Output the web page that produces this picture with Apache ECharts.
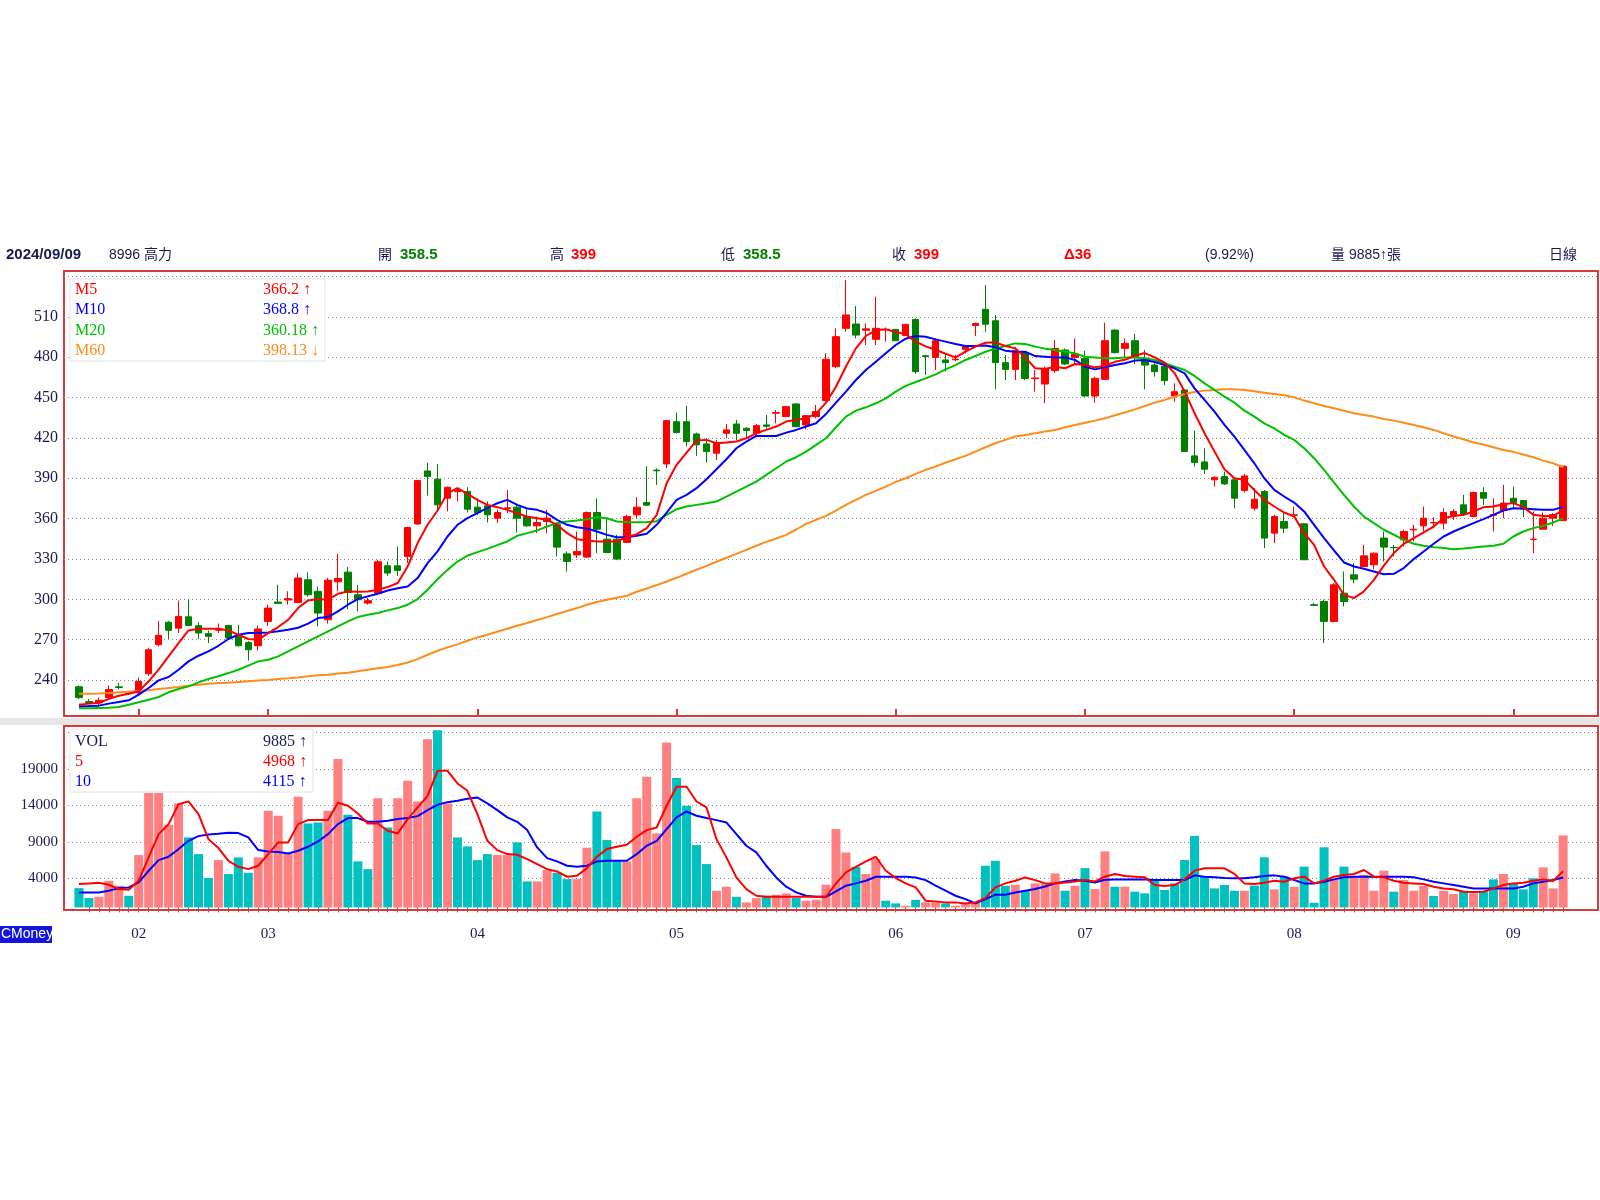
<!DOCTYPE html>
<html>
<head>
<meta charset="utf-8">
<title>8996 高力 日線</title>
<script src="https://cdn.jsdelivr.net/npm/echarts@6/dist/echarts.min.js"></script>
<style>
  html, body { margin: 0; padding: 0; background: #fff; }
  #chart { width: 1600px; height: 1200px; }
</style>
</head>
<body>
<div id="chart"></div>
<script>
// 交易日 (2024/01/24 ~ 2024/09/09)
const dates = [
  '01/24','01/25','01/26','01/29','01/30','01/31',
  '02/01','02/02','02/05','02/15','02/16','02/19','02/20','02/21','02/22','02/23','02/26','02/27','02/29',
  '03/01','03/04','03/05','03/06','03/07','03/08','03/11','03/12','03/13','03/14','03/15','03/18','03/19','03/20','03/21','03/22','03/25','03/26','03/27','03/28','03/29',
  '04/01','04/02','04/03','04/08','04/09','04/10','04/11','04/12','04/15','04/16','04/17','04/18','04/19','04/22','04/23','04/24','04/25','04/26','04/29','04/30',
  '05/02','05/03','05/06','05/07','05/08','05/09','05/10','05/13','05/14','05/15','05/16','05/17','05/20','05/21','05/22','05/23','05/24','05/27','05/28','05/29','05/30','05/31',
  '06/03','06/04','06/05','06/06','06/07','06/11','06/12','06/13','06/14','06/17','06/18','06/19','06/20','06/21','06/24','06/25','06/26','06/27','06/28',
  '07/01','07/02','07/03','07/04','07/05','07/08','07/09','07/10','07/11','07/12','07/15','07/16','07/17','07/18','07/19','07/22','07/23','07/26','07/29','07/30','07/31',
  '08/01','08/02','08/05','08/06','08/07','08/08','08/09','08/12','08/13','08/14','08/15','08/16','08/19','08/20','08/21','08/22','08/23','08/26','08/27','08/28','08/29','08/30',
  '09/02','09/03','09/04','09/05','09/06','09/09'
];

// 開 收 低 高
const opens = [
  235, 224, 223, 227, 235, 230, 230.5, 244.7, 266.3, 283,
  278.6, 287, 280.4, 274.5, 277, 280.6, 272.5, 268, 265.5, 283.6,
  298, 299.5, 297.7, 314.5, 305.9, 284.8, 313, 320.2, 303.4, 297.2,
  304.6, 324.9, 324.9, 331.9, 356, 395.4, 389.3, 375.2, 380, 380.1,
  368.5, 369.5, 360.3, 367.5, 368.5, 361.5, 354.6, 357.8, 355.4, 333.8,
  333, 331.4, 364.5, 344.7, 344.7, 342.3, 362.8, 372, 396, 400.6,
  432, 432, 422.9, 415.5, 408.6, 423.4, 430.3, 427.1, 423.4, 429.6,
  438.3, 435.8, 445.2, 429.6, 435.8, 447.7, 472.9, 501.4, 504.6, 500,
  493.2, 500.5, 500.6, 496, 508, 481, 479.8, 477.9, 478, 485.8,
  503.5, 515.5, 507, 475.9, 470.9, 483.3, 464, 460, 470, 485.3,
  479.8, 479.1, 451.1, 463.5, 500.1, 486.5, 492.2, 479.1, 474.1, 473.1,
  451.1, 455.6, 406.6, 402.1, 388.8, 391.2, 388.8, 380.9, 367.7, 380.1,
  349.2, 357.8, 362.5, 356.1, 296, 298.4, 283.6, 304.6, 318.2, 324.4,
  325.7, 345.5, 338.6, 344.2, 351.6, 354.6, 356.8, 356.6, 362, 370.2,
  361.5, 379.4, 362.5, 366, 375.1, 373.4, 344.5, 352.1, 360.3, 358.5
];
const closes = [
  227, 223, 225, 233, 234.5, 230, 239, 262.5, 273.2, 277,
  287.3, 280.6, 275, 272.5, 278, 271.2, 265.5, 262.5, 278, 293.5,
  297, 300.5, 315.8, 303.4, 289.8, 314.2, 315.5, 305.1, 299.7, 299,
  327.9, 319.5, 321.5, 353.4, 388.3, 391.2, 370.2, 383.3, 381.5, 367,
  364.5, 362.8, 364.5, 368, 360.3, 354.6, 357.1, 360.3, 338.8, 328.1,
  335.6, 364.5, 352.1, 334.8, 329.9, 361.5, 368.5, 370, 395.5, 432.8,
  423.9, 417.2, 414.8, 409.8, 416.5, 425.9, 423.4, 425.4, 429.1, 428.6,
  438.8, 443.2, 428.3, 436.5, 439.5, 478.4, 495.2, 511.3, 496.4, 501,
  501.4, 500.7, 492.2, 504.3, 469.2, 480.5, 492.2, 475.9, 478.5, 488.2,
  505, 504.5, 475.9, 470.9, 484.8, 464.2, 464.5, 471.7, 486.5, 474.9,
  482.3, 451.1, 464.2, 492.2, 483.3, 490.2, 479.8, 474.1, 469.2, 462.5,
  454.3, 409.8, 401.6, 396.7, 390.7, 385.8, 375.2, 391.7, 374.4, 345.5,
  361.5, 352.9, 362.8, 329.4, 295.5, 283.6, 310.8, 298.4, 315, 332.3,
  334.3, 338.8, 338.4, 350.4, 352.1, 360.3, 357.1, 364.5, 365.3, 363.5,
  379.4, 375.2, 363, 371.5, 371.5, 367, 344.7, 360.3, 363, 399
];
const lows = [
  226, 222, 221, 226, 233, 229, 229, 243, 265, 270.5,
  275, 280, 270.5, 267.5, 275, 270, 265, 254.6, 262, 280.4,
  296.5, 296, 297, 302, 280, 282, 306, 292.8, 291, 296,
  303.4, 317.5, 317.5, 327, 355.4, 377.1, 365, 365.3, 372.7, 364.5,
  362.8, 357.1, 356.6, 364, 349.7, 354.1, 349.2, 349.2, 331.9, 320.7,
  330.6, 330.6, 334.3, 334.3, 329.4, 341.8, 360.3, 369.5, 385, 397.4,
  423.4, 413.5, 406.6, 401.6, 403.6, 419.7, 418.4, 419.7, 422.2, 427,
  430.8, 435.3, 427.9, 426.4, 434.5, 446.9, 471.7, 498.9, 493.9, 489,
  489, 491.5, 492, 495.7, 467.5, 466.7, 470.4, 469.2, 477, 482.8,
  495.7, 498.9, 456.1, 463, 463, 463, 454.3, 445.7, 468.4, 474.1,
  475.4, 450.6, 446.2, 463, 482.8, 479.8, 474.9, 456.1, 465.5, 459.3,
  446.9, 409.8, 398.7, 393.2, 383.8, 385, 367.7, 379.4, 366, 338.1,
  341.8, 349.2, 361, 329.4, 295.2, 267.5, 282.9, 294.7, 312, 324.4,
  322.5, 328.1, 331.9, 339.3, 343, 350.4, 352.9, 352.1, 359, 362,
  361, 370.2, 350.4, 360.3, 367.7, 361, 334.3, 352.1, 354.6, 358.5
];
const highs = [
  236, 226, 227, 236, 238, 231, 242, 264, 284, 284,
  299, 300, 283, 276.7, 282, 281, 281, 269, 280.4, 296,
  310.8, 306, 319.5, 320, 309.6, 316, 333.8, 324, 310.8, 301,
  329.4, 328, 339.3, 354, 388.8, 401.6, 400.6, 383.8, 382.6, 383.3,
  375.1, 372.7, 366.5, 381.3, 370.2, 366.5, 361.5, 366.5, 357.1, 335.6,
  350.4, 365.3, 374.9, 360.3, 347.9, 362.8, 375.9, 399, 397.4, 433.3,
  438.8, 443.7, 423.9, 419.7, 418.4, 430.3, 433.3, 427.9, 430.3, 437,
  440.7, 443.7, 445.7, 437, 444.4, 482.8, 501.4, 537.2, 518, 505,
  524.9, 502, 501, 505, 508.8, 481.6, 493.9, 482.8, 481.6, 489,
  505.5, 533.5, 511.3, 481.6, 487.7, 484, 470.4, 472.9, 492.7, 486.5,
  493.9, 484.8, 465.5, 505.5, 500.6, 493.9, 497.2, 485.3, 477.9, 474.1,
  460.5, 456.1, 425.4, 412.3, 391.2, 394.9, 390, 393.2, 382.6, 381.3,
  362.8, 364.5, 368.9, 356.6, 297.2, 299.7, 312, 320.7, 326.9, 340.5,
  334.8, 350.4, 340.5, 351.6, 355.4, 368.9, 361, 367.7, 367, 377.6,
  380.1, 383.3, 375.1, 385, 383.8, 373.9, 365.3, 364.5, 364, 399
];

// 均線
const ma5 = [
  221.7, 222.5, 223.0, 226.0, 228.4, 229.9, 231.6, 239.1, 247.7, 257.6,
  267.5, 276.9, 278.2, 278.2, 278.2, 276.9, 273.7, 270.5, 270.0, 274.9,
  279.4, 284.8, 293.5, 299.2, 300.2, 299.7, 304.1, 305.9, 305.6, 305.9,
  307.1, 309.1, 312.1, 324.4, 341.8, 355.4, 366.0, 379.0, 382.6, 378.4,
  373.9, 370.2, 368.5, 366.5, 364.0, 361.5, 360.3, 359.1, 355.4, 349.2,
  344.7, 343.7, 343.0, 343.0, 343.0, 346.2, 348.4, 352.9, 362.8, 386.3,
  400.0, 409.0, 418.0, 418.5, 416.0, 416.5, 417.3, 419.7, 423.4, 425.9,
  428.4, 432.1, 433.3, 434.6, 438.0, 446.2, 458.0, 473.0, 486.5, 495.7,
  500.1, 500.6, 498.7, 497.0, 491.5, 488.0, 485.5, 482.5, 479.8, 484.1,
  487.8, 490.7, 491.0, 488.3, 486.5, 479.8, 471.7, 471.2, 472.9, 471.7,
  474.9, 474.2, 472.4, 473.5, 476.5, 478.0, 481.0, 483.0, 479.8, 475.9,
  468.0, 454.4, 438.3, 423.4, 409.8, 396.7, 390.0, 388.8, 381.3, 373.9,
  369.0, 364.5, 361.5, 349.2, 340.5, 324.4, 314.5, 303.4, 300.9, 305.9,
  314.5, 325.0, 334.4, 341.3, 345.5, 349.7, 354.1, 360.3, 362.0, 362.8,
  365.3, 368.5, 369.0, 370.7, 371.5, 368.5, 362.8, 362.0, 362.0, 366.2
];
const ma10 = [
  220.5, 220.7, 221.0, 222.5, 223.7, 225.0, 229.2, 234.1, 239.8, 242.3,
  247.7, 253.9, 258.1, 261.3, 265.5, 270.5, 273.7, 274.9, 274.9, 275.4,
  276.2, 277.4, 278.9, 281.9, 286.1, 286.8, 291.0, 296.0, 300.2, 302.2,
  304.1, 306.6, 308.3, 309.6, 315.8, 326.9, 335.6, 346.7, 355.4, 360.3,
  364.0, 368.0, 371.4, 373.9, 370.2, 367.5, 366.5, 364.0, 359.1, 355.4,
  353.6, 352.6, 350.4, 347.9, 346.2, 346.2, 347.2, 348.7, 355.4, 364.5,
  373.9, 377.6, 382.6, 389.3, 396.7, 404.1, 412.3, 417.2, 421.4, 421.4,
  421.4, 423.9, 425.9, 428.4, 430.8, 437.8, 446.2, 454.4, 463.0, 470.4,
  476.6, 482.8, 489.0, 493.7, 495.7, 495.2, 493.2, 491.5, 489.7, 488.3,
  488.3, 488.7, 487.3, 484.8, 484.0, 484.0, 480.8, 480.3, 479.8, 479.8,
  477.9, 472.9, 470.9, 472.4, 474.1, 475.4, 477.4, 477.9, 476.4, 474.1,
  471.7, 467.9, 456.8, 448.2, 439.5, 429.6, 420.9, 411.1, 401.1, 390.0,
  381.3, 376.4, 371.9, 365.3, 355.4, 345.5, 336.3, 327.4, 324.4, 322.7,
  320.7, 318.7, 319.0, 323.2, 329.9, 335.6, 341.3, 346.7, 350.4, 353.6,
  356.6, 359.6, 362.8, 366.0, 367.7, 367.5, 367.0, 366.5, 366.5, 368.8
];
const ma20 = [
  219.0, 219.0, 219.3, 219.5, 220.0, 221.7, 223.5, 225.4, 227.4, 230.9,
  233.4, 235.3, 238.3, 240.8, 242.8, 245.2, 247.7, 250.7, 253.9, 255.1,
  257.6, 261.3, 265.0, 268.8, 272.5, 276.2, 279.9, 283.6, 286.8, 288.6,
  289.8, 291.8, 293.5, 296.0, 300.2, 307.1, 315.0, 321.9, 328.1, 332.4,
  335.1, 337.5, 340.3, 343.0, 347.2, 349.2, 351.2, 354.1, 356.6, 357.8,
  358.6, 359.6, 361.0, 360.3, 357.8, 357.3, 357.3, 357.3, 358.1, 362.8,
  367.0, 369.0, 370.2, 371.4, 372.7, 376.4, 380.1, 383.8, 387.5, 392.5,
  397.4, 402.4, 405.6, 409.8, 414.8, 419.7, 427.9, 435.8, 440.2, 442.7,
  445.7, 449.4, 454.4, 458.6, 461.5, 464.2, 467.2, 470.9, 474.1, 477.9,
  480.8, 484.0, 486.3, 488.3, 490.2, 489.7, 487.8, 486.3, 485.3, 484.0,
  482.8, 480.3, 479.8, 479.1, 479.1, 479.8, 479.8, 479.1, 477.9, 475.4,
  472.9, 470.4, 466.0, 460.5, 455.6, 450.6, 446.2, 440.2, 435.8, 430.8,
  427.1, 422.2, 418.5, 412.3, 404.9, 396.2, 386.8, 377.6, 369.0, 361.5,
  356.6, 351.7, 348.0, 344.2, 341.3, 339.8, 338.8, 338.1, 337.3, 337.8,
  338.5, 339.3, 339.8, 341.3, 346.7, 350.4, 352.9, 354.6, 357.1, 360.2
];
const ma60 = [
  229.9, 229.9, 230.1, 230.4, 230.9, 231.4, 231.9, 232.4, 233.4, 234.1,
  234.9, 235.8, 236.6, 237.3, 237.8, 238.1, 238.6, 239.1, 239.6, 240.0,
  240.8, 241.3, 242.0, 242.8, 243.5, 244.0, 244.8, 245.5, 246.5, 247.7,
  248.7, 249.7, 251.2, 253.1, 255.6, 258.8, 261.8, 264.3, 266.5, 269.2,
  271.7, 273.7, 275.9, 278.2, 280.4, 282.4, 284.6, 286.8, 289.1, 291.3,
  293.5, 296.0, 298.0, 299.7, 301.2, 302.7, 305.6, 308.1, 310.6, 313.3,
  316.0, 319.0, 322.0, 324.9, 327.9, 330.9, 333.8, 336.8, 339.8, 342.7,
  345.2, 347.9, 351.9, 356.1, 359.1, 362.0, 366.0, 370.2, 373.9, 377.6,
  380.6, 383.8, 387.3, 390.0, 393.2, 396.2, 398.7, 401.6, 404.1, 406.6,
  409.8, 413.0, 416.0, 418.5, 421.0, 422.2, 423.4, 424.7, 425.9, 427.9,
  429.6, 431.3, 432.8, 434.5, 436.8, 438.8, 441.2, 443.7, 446.2, 448.2,
  450.6, 452.6, 454.1, 455.1, 455.6, 456.1, 456.1, 455.6, 454.6, 453.6,
  452.6, 451.6, 450.1, 447.7, 445.7, 443.7, 442.0, 440.2, 438.3, 437.0,
  435.8, 434.0, 432.8, 431.3, 429.6, 427.9, 425.9, 423.4, 421.0, 419.0,
  416.5, 415.0, 413.0, 411.0, 409.6, 407.6, 405.6, 403.1, 401.1, 398.1
];

// 成交量(張) 與量均線
const vols = [
  2650, 1280, 1460, 3660, 2970, 1600, 7190, 15700, 15700, 11350,
  14280, 9610, 7320, 4030, 6500, 4580, 6870, 4760, 6870, 13270,
  12590, 7410, 15200, 11530, 11670, 13270, 20370, 12720, 6320, 5260,
  15010, 10980, 15010, 17390, 14550, 23100, 24350, 14280, 9610, 8380,
  6500, 7320, 7190, 7190, 8930, 3570, 3570, 5130, 4760, 3890,
  3890, 8200, 13180, 9250, 6320, 6320, 15010, 17940, 10160, 22660,
  17760, 13960, 8560, 5950, 2290, 2840, 1460, 690, 1280, 1600,
  1740, 1920, 1280, 920, 1050, 3110, 10760, 7550, 5580, 4580,
  6640, 920, 550, 230, 1050, 690, 690, 550, 230, 460,
  690, 5720, 6410, 2970, 3110, 2290, 3300, 3300, 4670, 2290,
  2970, 5400, 2520, 7700, 2840, 2840, 2160, 1930, 3760, 2390,
  3300, 6510, 9820, 4310, 2610, 3070, 2290, 2290, 3000, 6880,
  2480, 4220, 2840, 5600, 640, 8260, 3850, 5600, 4220, 4450,
  2290, 5050, 2160, 3760, 2290, 2940, 1560, 2290, 1830, 2290,
  1930, 2290, 3850, 4590, 3210, 2480, 3990, 5500, 2610, 9885
];
const volMa5 = [
  3200, 3300, 3390, 3110, 2520, 2430, 3660, 6870, 10070, 11440,
  14190, 14550, 12820, 9380, 8150, 6410, 5580, 5260, 5720, 7320,
  8930, 8930, 11440, 11990, 11990, 11990, 14370, 13960, 12910, 11530,
  11530, 10530, 10160, 12130, 13730, 15330, 18770, 18770, 17030, 16020,
  12820, 9150, 7870, 7320, 7230, 6640, 5950, 5260, 4940, 4210,
  4350, 5400, 6960, 8010, 8330, 8600, 9700, 10620, 10980, 13960,
  16570, 16570, 14550, 13730, 9380, 6870, 4120, 2520, 1600, 1460,
  1460, 1460, 1460, 1460, 1460, 1460, 3300, 4810, 5580, 6320,
  6960, 5030, 4030, 3300, 2750, 920, 820, 690, 690, 550,
  690, 1280, 2750, 3300, 3660, 4120, 3750, 3300, 3300, 3430,
  3570, 3750, 3570, 4220, 4590, 4310, 4220, 4130, 3070, 2940,
  3070, 3850, 5050, 5370, 5370, 5370, 4590, 3300, 3210, 3390,
  3670, 3530, 3990, 4220, 3300, 3670, 4220, 4450, 4590, 5140,
  4220, 4130, 3670, 3390, 3300, 3210, 2840, 2610, 2480, 2160,
  2110, 2160, 2610, 3070, 3300, 3390, 3670, 3850, 3620, 4968
];
const volMa10 = [
  2060, 2060, 2060, 2290, 2650, 2750, 3430, 5030, 6500, 6960,
  8010, 9150, 9790, 10020, 10120, 10250, 10210, 9610, 7870, 7690,
  7600, 7410, 7780, 8330, 9060, 10070, 11440, 12270, 12270, 11760,
  11760, 11900, 12130, 12270, 12540, 13360, 14100, 14460, 14650, 14920,
  15100, 14280, 13360, 12360, 11760, 10620, 8240, 6770, 6320, 5720,
  5580, 5720, 6320, 6410, 6410, 6410, 7320, 8470, 9150, 10760,
  12360, 13180, 12590, 12270, 11990, 11670, 10070, 8470, 7550, 5720,
  4120, 2840, 2060, 1600, 1460, 1460, 2200, 2980, 3300, 3660,
  4210, 4210, 4210, 4210, 4120, 3750, 2980, 2290, 1600, 1140,
  550, 1140, 1740, 1740, 2060, 2290, 2520, 2880, 3300, 3570,
  3750, 3660, 3430, 3810, 3850, 3850, 3850, 3850, 3760, 3760,
  3760, 3760, 4400, 4220, 4130, 4040, 3990, 3990, 4130, 4310,
  4400, 4220, 3760, 3300, 3300, 3530, 3850, 4130, 4220, 4220,
  4220, 4220, 4220, 4220, 4130, 3850, 3530, 3300, 3070, 2840,
  2610, 2610, 2610, 2610, 2610, 2840, 3300, 3530, 3760, 4115
];

// 刻度
const priceTicks = [240, 270, 300, 330, 360, 390, 420, 450, 480, 510, 540];
const volTicks = [4000, 9000, 14000, 19000, 24000];

const UP = '#ff0000', DOWN = '#007f00';
const VOL_UP = '#ff8080', VOL_DOWN = '#00c0c0';
const C5 = '#ff0000', C10 = '#0000ff', C20 = '#00c000', C60 = '#ff8c1a';
const NAVY = '#1a1a50';
const FRAME = '#d23c3c';
const SERIF = "'Liberation Serif', 'Noto Serif', serif";
const SANS = "'Liberation Sans', 'Noto Sans CJK TC', sans-serif";

// 左留1格、右留3格空白
const padL = 1;
const cats = [''].concat(dates, ['', '', '']);
const at = i => i + padL;
const pts = arr => arr.map((v, i) => [at(i), v]);

const candles = dates.map((d, i) => [at(i), opens[i], closes[i], lows[i], highs[i]]);
const volData = vols.map((v, i) => ({
  value: [at(i), v],
  itemStyle: { color: i > 0 && closes[i] > closes[i - 1] ? VOL_UP : VOL_DOWN }
}));

function isMonthStart(k) {
  if (k < padL + 1 || k > padL + dates.length - 1) return false;
  return cats[k].slice(0, 2) !== cats[k - 1].slice(0, 2);
}

function gridLines(values, hideValue, fontSize) {
  return {
    silent: true,
    z: 1,
    symbol: ['none', 'none'],
    animation: false,
    lineStyle: { type: [1, 3], color: '#8c8c8c', width: 1 },
    label: {
      position: 'start', distance: 6, color: NAVY,
      fontFamily: SERIF, fontSize: fontSize,
      formatter: p => (p.value === hideValue ? '' : String(p.value))
    },
    emphasis: { disabled: true },
    data: values.map(v => ({ yAxis: v }))
  };
}

function maLine(name, arr, color, xi) {
  return {
    name: name, type: 'line', xAxisIndex: xi, yAxisIndex: xi,
    data: pts(arr), symbol: 'none', smooth: false, silent: true,
    lineStyle: { color: color, width: 2 }, z: 3
  };
}

function txt(x, y, text, color, opt) {
  opt = opt || {};
  return {
    type: 'text', x: x, y: y, z: 100,
    style: {
      text: text, fill: color,
      fontSize: opt.size || 15,
      fontWeight: opt.bold ? 'bold' : 'normal',
      fontFamily: opt.family || SANS,
      align: opt.align || 'left',
      verticalAlign: 'middle'
    }
  };
}

const headerY = 255;
const graphics = [
  // 兩圖之間灰帶
  { type: 'rect', z: 50, shape: { x: 0, y: 718, width: 1600, height: 7 }, style: { fill: '#e6e6e6' } },
  // 標題列
  txt(6, headerY, '2024/09/09', NAVY, { bold: true }),
  txt(109, headerY, '8996 高力', NAVY, { size: 14 }),
  txt(378, headerY, '開', NAVY, { size: 14 }),
  txt(400, headerY, '358.5', '#008000', { bold: true }),
  txt(550, headerY, '高', NAVY, { size: 14 }),
  txt(571, headerY, '399', '#ff0000', { bold: true }),
  txt(721, headerY, '低', NAVY, { size: 14 }),
  txt(743, headerY, '358.5', '#008000', { bold: true }),
  txt(892, headerY, '收', NAVY, { size: 14 }),
  txt(914, headerY, '399', '#ff0000', { bold: true }),
  txt(1064, headerY, 'Δ36', '#ff0000', { bold: true }),
  txt(1205, headerY, '(9.92%)', NAVY, { size: 14 }),
  txt(1331, headerY, '量 9885↑張', NAVY, { size: 14 }),
  txt(1549, headerY, '日線', NAVY, { size: 14 }),
  // 價格均線說明
  { type: 'rect', z: 90, shape: { x: 70, y: 279, width: 255, height: 82 }, style: { fill: '#fff', stroke: '#e2e2e2', lineWidth: 1 } },
  txt(75, 290, 'M5', C5, { family: SERIF, size: 16 }),
  txt(263, 290, '366.2 ↑', C5, { family: SERIF, size: 16 }),
  txt(75, 310, 'M10', C10, { family: SERIF, size: 16 }),
  txt(263, 310, '368.8 ↑', C10, { family: SERIF, size: 16 }),
  txt(75, 330.5, 'M20', C20, { family: SERIF, size: 16 }),
  txt(263, 330.5, '360.18 ↑', C20, { family: SERIF, size: 16 }),
  txt(75, 350.5, 'M60', C60, { family: SERIF, size: 16 }),
  txt(263, 350.5, '398.13 ↓', C60, { family: SERIF, size: 16 }),
  // 成交量說明
  { type: 'rect', z: 90, shape: { x: 70, y: 729, width: 243, height: 63 }, style: { fill: '#fff', stroke: '#e2e2e2', lineWidth: 1 } },
  txt(75, 741.5, 'VOL', NAVY, { family: SERIF, size: 16 }),
  txt(263, 741.5, '9885 ↑', NAVY, { family: SERIF, size: 16 }),
  txt(75, 761.5, '5', C5, { family: SERIF, size: 16 }),
  txt(263, 761.5, '4968 ↑', C5, { family: SERIF, size: 16 }),
  txt(75, 781.5, '10', C10, { family: SERIF, size: 16 }),
  txt(263, 781.5, '4115 ↑', C10, { family: SERIF, size: 16 }),
  // CMoney
  { type: 'rect', z: 90, shape: { x: 0, y: 926, width: 52, height: 17 }, style: { fill: '#1414e0' } },
  txt(1, 934.5, 'CMoney', '#ffffff', { size: 14 })
];

const chart = echarts.init(document.getElementById('chart'));

chart.setOption({
  animation: false,
  backgroundColor: '#ffffff',
  grid: [
    { left: 64, width: 1534, top: 271, height: 445, show: true, backgroundColor: '#fff',
      borderColor: FRAME, borderWidth: 2, outerBoundsMode: 'none' },
    { left: 64, width: 1534, top: 726, height: 184, show: true, backgroundColor: '#fff',
      borderColor: FRAME, borderWidth: 2, outerBoundsMode: 'none' }
  ],
  xAxis: [
    {
      type: 'category', gridIndex: 0, data: cats, boundaryGap: true,
      axisLine: { show: false },
      axisTick: {
        show: true, inside: true, length: 7, alignWithLabel: true,
        interval: k => isMonthStart(k),
        lineStyle: { color: FRAME, width: 2 }
      },
      axisLabel: { show: false },
      splitLine: { show: false }
    },
    {
      type: 'category', gridIndex: 1, data: cats, boundaryGap: true,
      axisLine: { show: false },
      axisTick: {
        show: true, length: 5, alignWithLabel: true,
        interval: k => k >= padL + 1 && k <= padL + dates.length - 1,
        lineStyle: { color: FRAME, width: 1 }
      },
      axisLabel: {
        interval: k => isMonthStart(k),
        formatter: v => v.slice(0, 2),
        margin: 17, color: NAVY, fontFamily: SERIF, fontSize: 15
      },
      splitLine: { show: false }
    }
  ],
  yAxis: [
    { type: 'value', gridIndex: 0, min: 213.3, max: 544, show: false },
    { type: 'value', gridIndex: 1, min: -357, max: 24920, show: false }
  ],
  series: [
    {
      name: 'K', type: 'candlestick', xAxisIndex: 0, yAxisIndex: 0,
      data: candles, encode: { x: 0, y: [1, 2, 3, 4] },
      barWidth: 7, silent: true, z: 2,
      itemStyle: { color: UP, color0: DOWN, borderColor: UP, borderColor0: DOWN, borderWidth: 1 },
      markLine: gridLines(priceTicks, 540, 16)
    },
    maLine('M60', ma60, C60, 0),
    maLine('M20', ma20, C20, 0),
    maLine('M10', ma10, C10, 0),
    maLine('M5', ma5, C5, 0),
    {
      name: 'VOL', type: 'bar', xAxisIndex: 1, yAxisIndex: 1,
      data: volData, barWidth: 9, silent: true, z: 2,
      markLine: gridLines(volTicks, 24000, 15)
    },
    maLine('10', volMa10, C10, 1),
    maLine('5', volMa5, C5, 1)
  ],
  graphic: graphics
});
</script>
</body>
</html>
